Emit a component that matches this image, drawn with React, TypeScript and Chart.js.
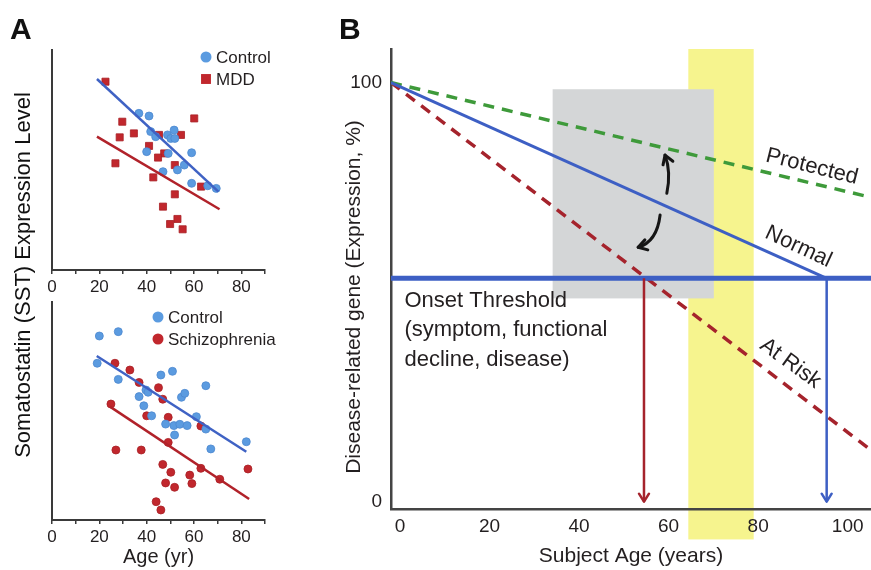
import React, { useEffect, useRef } from 'react';
import { Chart, registerables } from 'chart.js';
Chart.register(...registerables);

// ---------- Panel A (top): Control vs MDD ----------
const mddCtrlAge = [36.7, 41, 41.7, 43.8, 48.8, 50.2, 51.6, 51.9, 40, 49.1, 59, 55.9, 53, 46.9, 59, 65.8, 69.4];
const mddCtrlSst = [71.2, 70, 62.9, 60.6, 61.4, 59.8, 63.6, 59.8, 53.8, 53, 53.3, 47.7, 45.5, 44.7, 39.4, 38.3, 37.1];
const mddAge = [22.6, 29.7, 28.6, 34.6, 26.8, 45.2, 54.5, 60.1, 41, 47.4, 44.8, 51.9, 42.8, 63, 51.9, 46.9, 53, 49.9, 55.2];
const mddSst = [85.6, 67.4, 60.3, 62.1, 48.5, 61.4, 61.4, 68.9, 56.4, 53, 51.1, 47.7, 42.1, 37.9, 34.4, 28.8, 23.2, 20.9, 18.5];
const mddCtrlFitAge = [19, 70.3];
const mddCtrlFitSst = [86.8, 35.6];
const mddFitAge = [19, 70.8];
const mddFitSst = [60.6, 27.6];

// ---------- Panel A (bottom): Control vs Schizophrenia ----------
const scCtrlAge = [20, 28, 19.1, 28, 46, 50.9, 65, 36.8, 39.7, 40.6, 38.8, 42.1, 54.7, 56.1, 61, 48, 51.5, 54, 57.1, 65, 51.8, 67.1, 82.1];
const scCtrlSst = [84.4, 86.4, 71.9, 64.5, 66.5, 68.2, 61.6, 56.6, 59.6, 58.6, 52.4, 47.8, 56.3, 58.1, 47.4, 44, 43.3, 43.9, 43.3, 41.7, 39, 32.6, 35.9];
const scAge = [26.6, 32.9, 36.8, 45, 46.8, 24.9, 40, 49.1, 62.9, 49.1, 27, 37.7, 46.8, 50.2, 48, 51.8, 58.2, 59.1, 62.9, 70.9, 82.8, 44, 46];
const scSst = [71.9, 68.8, 63.1, 60.7, 55.4, 53.2, 47.8, 47.1, 43.1, 35.6, 32.1, 32.1, 25.5, 21.9, 17, 15, 20.6, 16.7, 23.7, 18.7, 23.4, 8.4, 4.6];
const scCtrlFitAge = [18.9, 82.1];
const scCtrlFitSst = [75.2, 31.3];
const scFitAge = [24.5, 83.3];
const scFitSst = [52, 9.6];

const ageTicksA = [0, 10, 20, 30, 40, 50, 60, 70, 80, 90];

// ---------- Panel B: schematic ----------
const bAgeTicks = [0, 20, 40, 60, 80, 100];
const bExprTicks = [0, 100];
const normalAge = [-2, 95.3];
const normalExpr = [100, 53.3];
const protectedAge = [-2, 105.2];
const protectedExpr = [100, 72.6];
const atRiskAge = [-2, 105.2];
const atRiskExpr = [100, 12.3];
const thresholdAge = [-2, 105.2];
const thresholdExpr = [53.3, 53.3];
const onsetAge = [54.5, 95.3]; // At Risk, Normal
const onsetExprTop = 53.3;
const windowAge = [64.4, 79];
const windowExprLow = -9;
const boxAge = [34.1, 70.1];
const boxExpr = [48.5, 98.4];
const upArrowAge = [59.6, 60.6, 59.2];
const upArrowExpr = [73.6, 78.6, 82.7];
const downArrowAge = [58.1, 57.4, 53.2];
const downArrowExpr = [68.4, 62.0, 60.7];
const curveLabels = ['Protected', 'Normal', 'At Risk'];
const curveLabelAge = [92.0, 89.0, 87.2];
const curveLabelExpr = [79.9, 60.8, 33.0];
const curveLabelRot = [14, 25, 36];
const onsetText = ['Onset Threshold', '(symptom, functional', 'decline, disease)'];
const onsetTextAge = 1.0;
const onsetTextExpr = 47.9;

const FONT = '"Liberation Sans", Arial, Helvetica, sans-serif';
const INK = '#231f20';
const AXIS = '#3a3a3a';
const CTRL_BLUE = '#5b9be0';
const CASE_RED = '#c1272d';
const FIT_BLUE = '#3f62c4';
const FIT_RED = '#b1222a';
const LINE_BLUE = '#3d5fc4';
const LINE_RED = '#a5232c';
const LINE_GREEN = '#3e9a3a';

const zip = (xs: number[], ys: number[]) => xs.map((x, i) => ({ x, y: ys[i] }));

const scatterLegend = {
  id: 'scatterLegend',
  afterDatasetsDraw(chart: any, _a: any, o: any) {
    const ctx = chart.ctx;
    ctx.save();
    let row = 0;
    chart.data.datasets.forEach((ds: any) => {
      if (!ds.inLegend) return;
      const cx = o.x;
      const cy = o.y + row * o.rowGap;
      ctx.fillStyle = ds.backgroundColor;
      if (ds.pointStyle === 'rect') {
        const s = o.marker * 0.9;
        ctx.fillRect(cx - s, cy - s, 2 * s, 2 * s);
      } else {
        ctx.beginPath();
        ctx.arc(cx, cy, o.marker, 0, Math.PI * 2);
        ctx.fill();
      }
      ctx.fillStyle = INK;
      ctx.font = `${o.fontSize}px ${FONT}`;
      ctx.textBaseline = 'middle';
      ctx.textAlign = 'left';
      ctx.fillText(ds.label, cx + o.textGap, cy + 1);
      row++;
    });
    ctx.restore();
  },
};

function scatterConfig(p: any) {
  return {
    type: 'scatter',
    plugins: [scatterLegend],
    data: {
      datasets: [
        { label: 'fitCtrl', data: zip(p.ctrlFitAge, p.ctrlFitSst), showLine: true, pointRadius: 0, borderColor: FIT_BLUE, borderWidth: 2.5, order: 0 },
        { label: 'fitCase', data: zip(p.caseFitAge, p.caseFitSst), showLine: true, pointRadius: 0, borderColor: FIT_RED, borderWidth: 2.5, order: 0 },
        { label: 'Control', inLegend: true, data: zip(p.ctrlAge, p.ctrlSst), pointStyle: 'circle', pointRadius: 4, backgroundColor: CTRL_BLUE, borderColor: '#4d88cf', borderWidth: 0.8, order: 1 },
        { label: p.caseLabel, inLegend: true, data: zip(p.caseAge, p.caseSst), pointStyle: p.caseStyle, pointRadius: p.caseStyle === 'rect' ? 5 : 4, backgroundColor: CASE_RED, borderColor: '#a81f25', borderWidth: 0.8, order: 2 },
      ],
    },
    options: {
      animation: false,
      responsive: false,
      devicePixelRatio: 1,
      layout: { padding: { top: p.padTop, left: 0, right: p.padRight, bottom: 0 } },
      plugins: {
        legend: { display: false },
        tooltip: { enabled: false },
        scatterLegend: { x: p.legendX, y: p.legendY, rowGap: 22, marker: 5.5, textGap: 10, fontSize: 17 },
      },
      scales: {
        x: {
          type: 'linear',
          min: 0,
          max: 90,
          afterFit: (s: any) => { s.height = p.xHeight; },
          afterBuildTicks: (s: any) => { s.ticks = ageTicksA.map((v) => ({ value: v })); },
          ticks: {
            autoSkip: false,
            maxRotation: 0,
            padding: 3,
            color: INK,
            font: { family: FONT, size: 17 },
            callback: (v: any) => (v % 20 === 0 ? String(v) : ''),
          },
          grid: { display: true, drawOnChartArea: false, drawTicks: true, tickLength: 4, color: AXIS, lineWidth: 1.5 },
          border: { display: true, color: AXIS, width: 2 },
          title: { display: p.showTitle, text: 'Age (yr)', color: INK, font: { family: FONT, size: 20 }, padding: { top: 0, bottom: 1 } },
        },
        y: {
          type: 'linear',
          min: 0,
          max: 100,
          afterFit: (s: any) => { s.width = 52; },
          ticks: { display: false },
          grid: { display: false, drawTicks: false },
          border: { display: true, color: AXIS, width: 2 },
        },
      },
    },
  };
}

function quadArrow(ctx: any, x: any, y: any, ax: number[], ay: number[], headLen: number) {
  const p0 = [x.getPixelForValue(ax[0]), y.getPixelForValue(ay[0])];
  const c = [x.getPixelForValue(ax[1]), y.getPixelForValue(ay[1])];
  const p1 = [x.getPixelForValue(ax[2]), y.getPixelForValue(ay[2])];
  ctx.beginPath();
  ctx.moveTo(p0[0], p0[1]);
  ctx.quadraticCurveTo(c[0], c[1], p1[0], p1[1]);
  ctx.stroke();
  const ang = Math.atan2(p1[1] - c[1], p1[0] - c[0]);
  ctx.beginPath();
  ctx.moveTo(p1[0] - headLen * Math.cos(ang - 0.55), p1[1] - headLen * Math.sin(ang - 0.55));
  ctx.lineTo(p1[0], p1[1]);
  ctx.lineTo(p1[0] - headLen * Math.cos(ang + 0.55), p1[1] - headLen * Math.sin(ang + 0.55));
  ctx.stroke();
}

const lifespanDecor = {
  id: 'lifespanDecor',
  beforeDraw(chart: any, _a: any, o: any) {
    const { ctx, chartArea } = chart;
    const x = chart.scales.x;
    const y = chart.scales.y;
    ctx.save();
    const wx0 = x.getPixelForValue(windowAge[0]);
    const wx1 = x.getPixelForValue(windowAge[1]);
    ctx.fillStyle = o.windowColor;
    ctx.fillRect(wx0, chartArea.top, wx1 - wx0, y.getPixelForValue(windowExprLow) - chartArea.top);
    const bx0 = x.getPixelForValue(boxAge[0]);
    const bx1 = x.getPixelForValue(boxAge[1]);
    const by0 = y.getPixelForValue(boxExpr[1]);
    const by1 = y.getPixelForValue(boxExpr[0]);
    ctx.fillStyle = o.boxColor;
    ctx.fillRect(bx0, by0, bx1 - bx0, by1 - by0);
    ctx.restore();
  },
  afterDatasetsDraw(chart: any, _a: any, o: any) {
    const { ctx, chartArea } = chart;
    const x = chart.scales.x;
    const y = chart.scales.y;
    ctx.save();
    const headColors = [LINE_RED, LINE_BLUE];
    onsetAge.forEach((a, i) => {
      const px = x.getPixelForValue(a);
      const py = y.getPixelForValue(0);
      ctx.strokeStyle = headColors[i];
      ctx.lineWidth = 2.5;
      ctx.lineCap = 'round';
      ctx.lineJoin = 'round';
      ctx.beginPath();
      ctx.moveTo(px - 5, py - 8);
      ctx.lineTo(px, py);
      ctx.lineTo(px + 5, py - 8);
      ctx.stroke();
    });
    ctx.strokeStyle = '#151515';
    ctx.lineWidth = 3;
    ctx.lineCap = 'round';
    quadArrow(ctx, x, y, upArrowAge, upArrowExpr, 10);
    quadArrow(ctx, x, y, downArrowAge, downArrowExpr, 10);
    ctx.fillStyle = INK;
    ctx.font = `${o.labelSize}px ${FONT}`;
    curveLabels.forEach((t, i) => {
      ctx.save();
      ctx.translate(x.getPixelForValue(curveLabelAge[i]), y.getPixelForValue(curveLabelExpr[i]));
      ctx.rotate((curveLabelRot[i] * Math.PI) / 180);
      ctx.textAlign = 'center';
      ctx.textBaseline = 'middle';
      ctx.fillText(t, 0, 0);
      ctx.restore();
    });
    ctx.textAlign = 'left';
    ctx.textBaseline = 'middle';
    ctx.font = `${o.onsetSize}px ${FONT}`;
    const tx = x.getPixelForValue(onsetTextAge);
    const ty = y.getPixelForValue(onsetTextExpr);
    onsetText.forEach((t, i) => ctx.fillText(t, tx, ty + i * o.onsetLineGap));
    ctx.save();
    ctx.translate(o.yTitleX, (chartArea.top + chartArea.bottom) / 2 + o.yTitleShift);
    ctx.rotate(-Math.PI / 2);
    ctx.font = `${o.yTitleSize}px ${FONT}`;
    ctx.textAlign = 'center';
    ctx.textBaseline = 'middle';
    ctx.fillText('Disease-related gene (Expression, %)', 0, 0);
    ctx.restore();
    ctx.restore();
  },
};

function lifespanConfig() {
  return {
    type: 'scatter',
    plugins: [lifespanDecor],
    data: {
      datasets: [
        { label: 'onsetAtRisk', data: zip([onsetAge[0], onsetAge[0]], [onsetExprTop, 0]), showLine: true, pointRadius: 0, borderColor: LINE_RED, borderWidth: 2.5 },
        { label: 'onsetNormal', data: zip([onsetAge[1], onsetAge[1]], [onsetExprTop, 0]), showLine: true, pointRadius: 0, borderColor: LINE_BLUE, borderWidth: 2.5 },
        { label: 'Onset Threshold', data: zip(thresholdAge, thresholdExpr), showLine: true, pointRadius: 0, borderColor: LINE_BLUE, borderWidth: 5 },
        { label: 'Normal', data: zip(normalAge, normalExpr), showLine: true, pointRadius: 0, borderColor: LINE_BLUE, borderWidth: 3 },
        { label: 'Protected', data: zip(protectedAge, protectedExpr), showLine: true, pointRadius: 0, borderColor: LINE_GREEN, borderWidth: 3.5, borderDash: [11, 8] },
        { label: 'At Risk', data: zip(atRiskAge, atRiskExpr), showLine: true, pointRadius: 0, borderColor: LINE_RED, borderWidth: 3.5, borderDash: [11, 8] },
      ],
    },
    options: {
      animation: false,
      responsive: false,
      devicePixelRatio: 1,
      layout: { padding: { top: 49, left: 0, right: 0, bottom: 0 } },
      plugins: {
        legend: { display: false },
        tooltip: { enabled: false },
        lifespanDecor: {
          windowColor: '#f6f48e',
          boxColor: '#d4d6d7',
          labelSize: 22,
          onsetSize: 22,
          onsetLineGap: 29.5,
          yTitleX: 24,
          yTitleShift: 18,
          yTitleSize: 21,
        },
      },
      scales: {
        x: {
          type: 'linear',
          min: -2,
          max: 105.2,
          afterFit: (s: any) => { s.height = 61; },
          afterBuildTicks: (s: any) => { s.ticks = bAgeTicks.map((v) => ({ value: v })); },
          ticks: { autoSkip: false, maxRotation: 0, padding: 6, color: INK, font: { family: FONT, size: 19 } },
          grid: { display: false, drawTicks: false },
          border: { display: true, color: '#444', width: 2.5 },
          title: { display: true, text: 'Subject Age (years)', color: INK, font: { family: FONT, size: 21 }, padding: { top: 0, bottom: 1 } },
        },
        y: {
          type: 'linear',
          min: -1.74,
          max: 108,
          afterFit: (s: any) => { s.width = 61; },
          afterBuildTicks: (s: any) => { s.ticks = bExprTicks.map((v) => ({ value: v })); },
          ticks: { autoSkip: false, padding: 9, color: INK, font: { family: FONT, size: 19 } },
          grid: { display: false, drawTicks: false },
          border: { display: true, color: '#444', width: 2.5 },
        },
      },
    },
  };
}

function ChartCanvas({ make, left, top, width, height }: any) {
  const ref = useRef<HTMLCanvasElement>(null);
  useEffect(() => {
    if (!ref.current) return;
    const chart = new Chart(ref.current, make());
    return () => chart.destroy();
  }, []);
  return (
    <canvas
      ref={ref}
      width={width}
      height={height}
      style={{ position: 'absolute', left, top, width, height }}
    />
  );
}

export default function App() {
  const letter: React.CSSProperties = {
    position: 'absolute',
    fontFamily: FONT,
    fontWeight: 'bold',
    fontSize: 30,
    lineHeight: '30px',
    color: '#111',
  };
  return (
    <div style={{ position: 'fixed', left: 0, top: 0, width: 871, height: 570, background: '#fff', overflow: 'hidden' }}>
      <ChartCanvas
        left={0}
        top={0}
        width={300}
        height={300}
        make={() =>
          scatterConfig({
            ctrlAge: mddCtrlAge, ctrlSst: mddCtrlSst, caseAge: mddAge, caseSst: mddSst,
            ctrlFitAge: mddCtrlFitAge, ctrlFitSst: mddCtrlFitSst, caseFitAge: mddFitAge, caseFitSst: mddFitSst,
            caseLabel: 'MDD', caseStyle: 'rect', padTop: 50, padRight: 35, xHeight: 30, showTitle: false,
            legendX: 206, legendY: 57,
          })
        }
      />
      <ChartCanvas
        left={0}
        top={290}
        width={300}
        height={280}
        make={() =>
          scatterConfig({
            ctrlAge: scCtrlAge, ctrlSst: scCtrlSst, caseAge: scAge, caseSst: scSst,
            ctrlFitAge: scCtrlFitAge, ctrlFitSst: scCtrlFitSst, caseFitAge: scFitAge, caseFitSst: scFitSst,
            caseLabel: 'Schizophrenia', caseStyle: 'circle', padTop: 12, padRight: 35, xHeight: 50, showTitle: true,
            legendX: 158, legendY: 27,
          })
        }
      />
      <ChartCanvas left={330} top={0} width={541} height={570} make={lifespanConfig} />
      <div style={{ ...letter, left: 10, top: 14 }}>A</div>
      <div style={{ ...letter, left: 339, top: 14 }}>B</div>
      <div
        style={{
          position: 'absolute',
          left: 23,
          top: 275,
          transform: 'translate(-50%, -50%) rotate(-90deg)',
          whiteSpace: 'nowrap',
          fontFamily: FONT,
          fontSize: 22,
          lineHeight: '22px',
          color: '#111',
        }}
      >
        Somatostatin (SST) Expression Level
      </div>
    </div>
  );
}
